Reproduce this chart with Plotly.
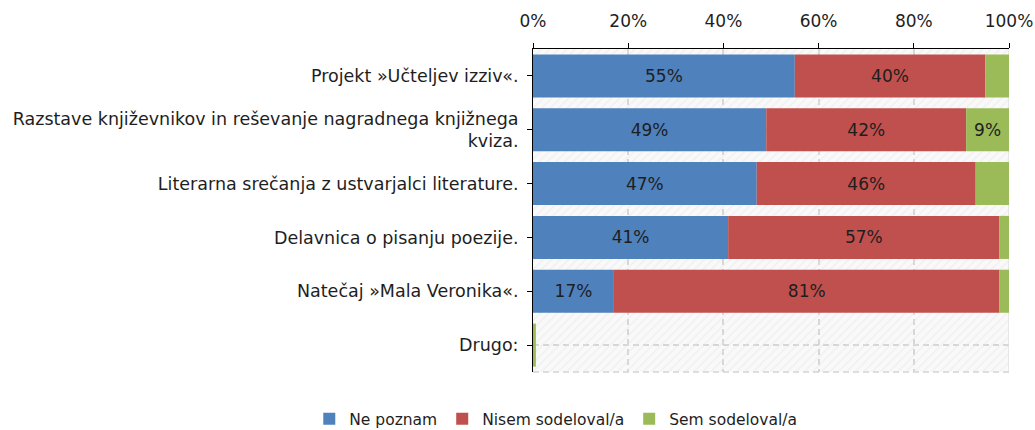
import plotly.graph_objects as go

categories = [
    "Projekt »Učteljev izziv«.",
    "Razstave književnikov in reševanje nagradnega knjižnega<br>kviza.",
    "Literarna srečanja z ustvarjalci literature.",
    "Delavnica o pisanju poezije.",
    "Natečaj »Mala Veronika«.",
    "Drugo:",
]
series_names = ["Ne poznam", "Nisem sodeloval/a", "Sem sodeloval/a"]
ne_poznam = [55, 49, 47, 41, 17, 0]
nisem = [40, 42, 46, 57, 81, 0]
sem = [5, 9, 7, 2, 2, 0.6]
labels_ne = ["55%", "49%", "47%", "41%", "17%", ""]
labels_nisem = ["40%", "42%", "46%", "57%", "81%", ""]
labels_sem = ["", "9%", "", "", "", ""]
xticks = [0, 20, 40, 60, 80, 100]
xticklabels = ["0%", "20%", "40%", "60%", "80%", "100%"]

colors = ["#4f81bd", "#c0504d", "#9bbb59"]
FONT = "DejaVu Sans"
TXT = "#1e1e1e"
GRID = "#d6d6d6"

fig = go.Figure()

# hatched background of the plot area
fig.add_trace(go.Bar(
    y=categories, x=[100] * len(categories), base=[0] * len(categories),
    orientation="h", width=1.0, showlegend=False, hoverinfo="skip",
    marker=dict(color="rgba(0,0,0,0)", line=dict(width=0),
                pattern=dict(shape="/", fgcolor="#e4e4e4", bgcolor="rgba(0,0,0,0)",
                             size=6, solidity=0.2)),
))

series = [ne_poznam, nisem, sem]
texts = [labels_ne, labels_nisem, labels_sem]
bases = [0] * len(categories)
for name, vals, txt, col in zip(series_names, series, texts, colors):
    fig.add_trace(go.Bar(
        y=categories, x=vals, base=list(bases), orientation="h", name=name,
        width=0.8, marker=dict(color=col, line=dict(width=0)),
        text=txt, textposition="inside", insidetextanchor="middle",
        textfont=dict(family=FONT, size=17, color=TXT),
        constraintext="none", hoverinfo="x+name",
    ))
    bases = [b + v for b, v in zip(bases, vals)]

fig.update_layout(
    width=1035, height=430,
    barmode="overlay",
    paper_bgcolor="white", plot_bgcolor="#f9f9f9",
    margin=dict(l=533, r=26, t=49, b=58, autoexpand=False),
    font=dict(family=FONT, size=17, color=TXT),
    legend=dict(orientation="h", x=-0.47, xanchor="left", y=-0.146, yanchor="middle",
                font=dict(family=FONT, size=15.5, color=TXT),
                traceorder="normal"),
    xaxis=dict(side="top", range=[0, 100], tickvals=xticks, ticktext=xticklabels,
               showline=True, linecolor="black", linewidth=1,
               ticks="outside", ticklen=5, tickcolor="black",
               ticklabelstandoff=9,
               showgrid=True, gridcolor=GRID, griddash="6px,4px", gridwidth=1.5,
               zeroline=False, tickfont=dict(family=FONT, size=17, color=TXT)),
    yaxis=dict(autorange=False, range=[5.5, -0.5],
               showline=True, linecolor="black", linewidth=1,
               ticks="outside", ticklen=5, tickcolor="black",
               ticklabelstandoff=5,
               showgrid=True, gridcolor=GRID, griddash="6px,4px", gridwidth=1.5,
               tickfont=dict(family=FONT, size=17.5, color=TXT)),
)
fig.add_shape(type="line", xref="x", yref="paper", x0=100, x1=100, y0=0, y1=1,
              line=dict(color="#d4d4d4", width=1), layer="below")
fig.add_shape(type="line", xref="paper", yref="paper", x0=0, x1=1, y0=0, y1=0,
              line=dict(color="#d4d4d4", width=1.5, dash="6px,4px"), layer="below")

fig.write_html("out.html", config={"displayModeBar": False},
               post_script="document.body.style.margin='0';")
